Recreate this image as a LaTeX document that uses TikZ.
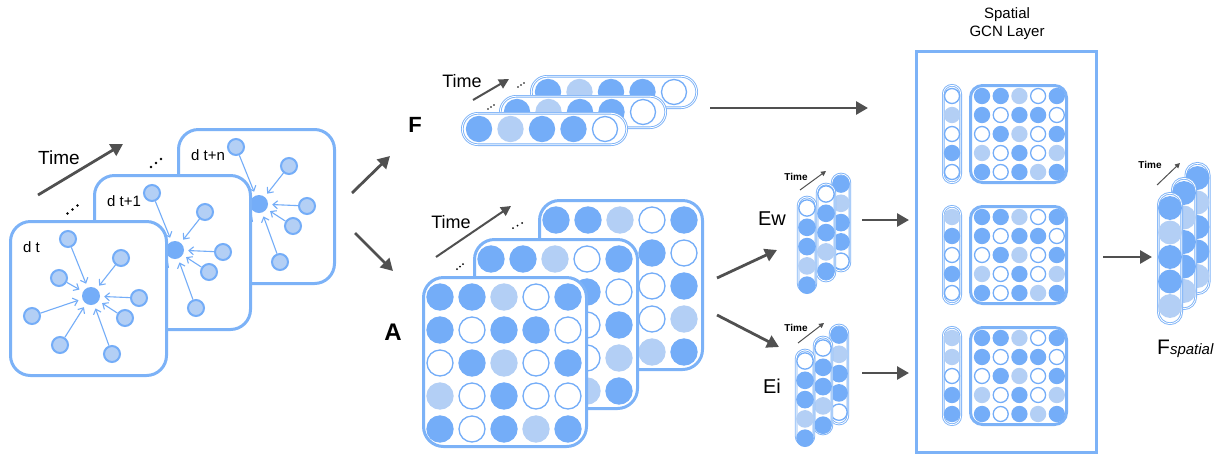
\documentclass[tikz,border=0pt]{standalone}
\usepackage{fontspec}
\setmainfont{Liberation Sans}
\usetikzlibrary{arrows.meta}
\definecolor{cdark}{HTML}{74ADF8}
\definecolor{clight}{HTML}{B3CFF5}
\definecolor{cbord}{HTML}{7CB2F7}
\definecolor{cgray}{HTML}{505050}
\colorlet{fd}{cdark}\colorlet{fl}{clight}\colorlet{fw}{white}
\colorlet{sd}{cdark}\colorlet{sl}{clight}\colorlet{sw}{cdark}
\newcommand\fs[1]{\fontsize{#1}{#1}\selectfont}
\tikzset{
 card/.style={draw=cbord, line width=3pt, fill=white, rounded corners=20pt},
 mbox/.style={draw=cbord, line width=3pt, fill=white, rounded corners=#1},
 gcnbox/.style={draw=cbord, line width=3pt},
 bigarrow/.style={draw=cgray, line width=2.8pt, -{Triangle[length=12pt,width=13pt]}},
 midarrow/.style={draw=cgray, line width=2pt, -{Triangle[length=10pt,width=10pt]}},
 smallarrow/.style={draw=cgray, line width=1pt, -{Triangle[length=5pt,width=5pt]}},
 garrow/.style={draw=cdark, line width=1.1pt, -{Straight Barb[length=4.5pt,width=8pt]}, shorten >=4pt},
 gnode/.style={circle, draw=cdark, fill=clight, line width=2pt, inner sep=0pt, minimum size=16pt},
 gcenter/.style={circle, fill=cdark, inner sep=0pt, minimum size=18pt},
 dot/.style={circle, inner sep=0pt, line width=1.3pt},
 pill/.style={draw=cbord, fill=white, line width=0.9pt, double=white, double distance=0.8pt},
 lbl/.style={inner sep=0pt, text=black},
}
\newcommand\patG{d,d,l,w,d,d,w,d,d,w,w,d,l,w,d,l,w,d,w,l,d,w,d,l,d}
\newcommand\patA{d,d,l,w,d,d,w,d,d,w,w,d,l,w,d,l,w,d,w,w,d,w,d,l,d}
% vertical vector: cx, top, bottom, r, y0, dy, size, pattern, name
\newcommand\vvec[9]{%
 \draw[pill, rounded corners=#4] ({#1-#4},#2) rectangle ({#1+#4},#3);
 \foreach \t [count=\k from 0] in {#8} {
   \node[dot, minimum size=#7, fill=f\t, draw=s\t] (#9-\k) at (#1,{#5+\k*#6}) {};}}
% horizontal vector: left, right, cy, r, x0, dx, size, pattern, name
\newcommand\hvec[9]{%
 \draw[pill, rounded corners=#4] (#1,{#3-#4}) rectangle (#2,{#3+#4});
 \foreach \t [count=\k from 0] in {#8} {
   \node[dot, minimum size=#7, fill=f\t, draw=s\t] (#9-\k) at ({#5+\k*#6},#3) {};}}
% matrix: x0, y0, dx, dy, size, pattern, name
\newcommand\drawmat[7]{%
 \foreach \t [count=\i from 0] in #6 {
   \pgfmathtruncatemacro\rr{div(\i,5)}
   \pgfmathtruncatemacro\cc{mod(\i,5)}
   \node[dot, minimum size=#5, fill=f\t, draw=s\t] (#7-\i) at ({#1+\cc*#3},{#2+\rr*#4}) {};}}
% graph card: shift x, shift y, label, name
\newcommand\gcard[4]{%
 \begin{scope}[shift={(#1,#2)}]
 \draw[card] (10.5,221.5) rectangle (166.5,375.5);
 \node[lbl, anchor=west, font=\fs{15}] (#4-lab) at (23,247) {#3};
 \node[gcenter] (#4-c) at (91,296) {};
 \foreach \dx/\dy [count=\k] in {-23/-57, 30/-38, -32/-18, 48/2, -59/20, 34/22, -31/49, 21/58} {
   \node[gnode] (#4-\k) at ({91+\dx},{296+\dy}) {};
   \draw[garrow] (#4-\k) -- (#4-c);}
 \end{scope}}
\newcommand\tridots[5]{% x y dx dy r
 \foreach \j in {0,1,2} {\fill[black] ({#1+\j*#3},{#2-\j*#4}) circle (#5);}}
\begin{document}
\begin{tikzpicture}[x=1pt,y=-1pt]
\useasboundingbox (0,0) rectangle (1223,456);

% ---------- left graph stack ----------
\gcard{168}{-92}{d t+n}{gn}
\gcard{84}{-46}{d t+1}{gm}
\gcard{0}{0}{d t}{g0}
\coordinate (tg1) at (38,195); \coordinate (tg2) at (123,144);
\draw[bigarrow] (tg1) -- (tg2);
\node[lbl, font=\fs{19}] (tgl) at (59,158) {Time};
\tridots{67.5}{213.5}{5}{4}{1.4}
\tridots{151}{167}{5}{4}{1.4}

% ---------- arrows to F and A ----------
\coordinate (la1) at (352,193); \coordinate (la2) at (390,156);
\coordinate (lb1) at (355,233); \coordinate (lb2) at (393,271);
\draw[bigarrow] (la1) -- (la2);
\draw[bigarrow] (lb1) -- (lb2);

% ---------- F stack ----------
\node[lbl, font=\fs{22}\bfseries] (Flab) at (415,125) {F};
\hvec{531.3}{696.7}{92}{15.7}{548}{31.5}{25}{d,l,d,d,w}{fb}
\hvec{500.3}{665.7}{112}{15.7}{517}{31.5}{25}{d,l,d,d,w}{fm}
\hvec{462.3}{626.7}{129}{15.7}{479}{31.5}{25}{d,l,d,d,w}{ff}
\coordinate (tf1) at (473,100); \coordinate (tf2) at (509,79);
\draw[midarrow] (tf1) -- (tf2);
\node[lbl, font=\fs{18}] (tfl) at (462,81) {Time};
\tridots{518}{87}{3}{2}{0.9}
\tridots{488}{109}{3}{2}{0.9}

% ---------- A stack ----------
\node[lbl, font=\fs{24}\bfseries] (Alab) at (393,332) {A};
\draw[mbox=20pt] (539.5,200.5) rectangle (702.5,369.5);
\drawmat{556}{220}{32}{33}{26}{\patG}{ab}
\draw[mbox=20pt] (474.5,239.5) rectangle (637.5,408.5);
\drawmat{491}{259}{32}{33}{26}{\patG}{am}
\draw[mbox=20pt] (423.5,277.5) rectangle (586.5,446.5);
\drawmat{440}{297}{32}{33}{26}{\patA}{af}
\coordinate (ta1) at (436,257); \coordinate (ta2) at (511,206);
\draw[midarrow] (ta1) -- (ta2);
\node[lbl, font=\fs{18}] (tal) at (451,222) {Time};
\tridots{513}{228}{4.5}{2.5}{1}
\tridots{457}{269}{3}{2.5}{1}

% ---------- arrows to Ew / Ei ----------
\coordinate (ae1) at (717,278); \coordinate (ae2) at (777,250);
\coordinate (ai1) at (717,315); \coordinate (ai2) at (779,347);
\draw[bigarrow] (ae1) -- (ae2);
\draw[bigarrow] (ai1) -- (ai2);

% ---------- Ew ----------
\node[lbl, font=\fs{20}] (Ewl) at (772,219) {Ew};
\vvec{841}{174}{271}{8.9}{184}{19.3}{16.3}{d,l,d,d,w}{ewb}
\vvec{826}{184}{281}{8.9}{194}{19.3}{16.3}{w,d,d,l,d}{ewm}
\vvec{807}{197}{292}{8.9}{208}{19.3}{16.3}{w,d,d,l,d}{ewf}
\coordinate (tw1) at (800,190); \coordinate (tw2) at (826,171);
\draw[smallarrow] (tw1) -- (tw2);
\node[lbl, font=\fs{10}\bfseries] (twl) at (796,177) {Time};

% ---------- Ei ----------
\node[lbl, font=\fs{20}] (Eil) at (772,386) {Ei};
\vvec{839}{325}{424}{8.9}{335}{19.3}{16.3}{d,l,d,d,w}{eib}
\vvec{823}{337}{434}{8.9}{348}{19.3}{16.3}{w,d,d,l,d}{eim}
\vvec{805}{350}{445}{8.9}{361}{19.3}{16.3}{w,d,d,l,d}{eif}
\coordinate (ti1) at (798,343); \coordinate (ti2) at (824,323);
\draw[smallarrow] (ti1) -- (ti2);
\node[lbl, font=\fs{10}\bfseries] (til) at (796,328) {Time};

% ---------- arrows into GCN ----------
\coordinate (af1) at (710,108); \coordinate (af2) at (868,108);
\coordinate (ew1) at (862,220); \coordinate (ew2) at (909,220);
\coordinate (ei1) at (862,373); \coordinate (ei2) at (909,373);
\draw[bigarrow] (af1) -- (af2);
\draw[bigarrow] (ew1) -- (ew2);
\draw[bigarrow] (ei1) -- (ei2);

% ---------- GCN layer ----------
\node[lbl, align=center, font=\fontsize{15}{18}\selectfont] (gcnt) at (1007,24) {Spatial\\GCN Layer};
\draw[gcnbox] (916.5,51.5) rectangle (1096.5,452.5);
\vvec{952}{85.3}{182.7}{8.7}{96}{19}{15}{w,l,w,d,w}{gp1}
\draw[mbox=12pt] (970.5,85.5) rectangle (1066.5,182.5);
\drawmat{982}{96}{18.7}{19}{15}{\patG}{gm1}
\vvec{952}{206.3}{303.7}{8.7}{217}{19}{15}{l,d,w,d,w}{gp2}
\draw[mbox=12pt] (970.5,206.5) rectangle (1066.5,303.5);
\drawmat{982}{217}{18.7}{19}{15}{\patG}{gm2}
\vvec{952}{327.3}{424.7}{8.7}{338}{19}{15}{l,l,w,d,d}{gp3}
\draw[mbox=12pt] (970.5,327.5) rectangle (1066.5,424.5);
\drawmat{982}{338}{18.7}{19}{15}{\patG}{gm3}

% ---------- output ----------
\coordinate (go1) at (1103,257); \coordinate (go2) at (1152,257);
\draw[bigarrow] (go1) -- (go2);
\vvec{1197.5}{163.3}{293.7}{11.7}{178}{24.5}{22.5}{d,l,d,d,l}{fsb}
\vvec{1184}{178.3}{308.7}{11.7}{193}{24.5}{22.5}{d,l,d,d,l}{fsm}
\vvec{1170}{193.3}{323.7}{11.7}{208}{24.5}{22.5}{d,l,d,d,l}{fsf}
\coordinate (ts1) at (1157,185); \coordinate (ts2) at (1180,163);
\draw[smallarrow] (ts1) -- (ts2);
\node[lbl, font=\fs{10}\bfseries] (tsl) at (1150,165) {Time};
\node[lbl, anchor=base west] (fsp) at (1157,354) {\fs{21}F\fs{15}\itshape spatial};
\end{tikzpicture}
\end{document}
